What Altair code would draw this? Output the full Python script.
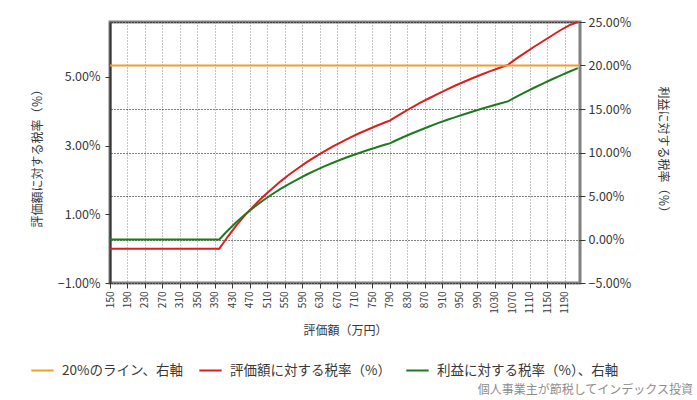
import altair as alt
import pandas as pd

# ---- data ----
x_vals = [150, 400, 410, 420, 440, 460, 480, 500, 520, 540, 560, 580, 600, 620, 640,
          660, 680, 700, 720, 740, 760, 780, 790, 800, 820, 840, 860, 880, 900, 920,
          940, 960, 980, 1000, 1020, 1040, 1060, 1080, 1100, 1120, 1140, 1160, 1180,
          1200, 1220]
red_vals = [0, 0, 0.18, 0.36, 0.69, 0.99, 1.26, 1.51, 1.74, 1.96, 2.16, 2.34, 2.52, 2.68,
            2.83, 2.98, 3.11, 3.24, 3.36, 3.47, 3.58, 3.68, 3.73, 3.81, 3.96, 4.11, 4.25,
            4.38, 4.51, 4.63, 4.75, 4.86, 4.97, 5.07, 5.17, 5.26, 5.35, 5.54, 5.71, 5.88,
            6.04, 6.20, 6.36, 6.50, 6.60]
green_vals = [0, 0, 0.55, 1.07, 2.04, 2.92, 3.73, 4.48, 5.17, 5.81, 6.40, 6.95, 7.47, 7.95,
              8.40, 8.82, 9.22, 9.60, 9.95, 10.29, 10.61, 10.91, 11.05, 11.29, 11.75, 12.18,
              12.59, 12.99, 13.37, 13.73, 14.07, 14.40, 14.72, 15.03, 15.32, 15.60, 15.87,
              16.41, 16.93, 17.44, 17.92, 18.39, 18.84, 19.28, 19.70]
line20_x = [150, 1225]
line20_vals = [20, 20]

x_ticks = [150, 190, 230, 270, 310, 350, 390, 430, 470, 510, 550, 590, 630, 670, 710,
           750, 790, 830, 870, 910, 950, 990, 1030, 1070, 1110, 1150, 1190]
left_ticks = [-1, 1, 3, 5]
right_ticks = [-5, 0, 5, 10, 15, 20, 25]

series_names = ["20%のライン、右軸", "評価額に対する税率（%）", "利益に対する税率（%）、右軸"]
series_colors = ["#EE9E2E", "#DC1E1E", "#1F7A1F"]
watermark = ["個人事業主が節税してインデックス投資"]

FONT = "Noto Sans CJK JP"
TXT = "#383838"

df_left = pd.DataFrame({"x": x_vals, "v": red_vals, "s": series_names[1]})
df_right = pd.concat([
    pd.DataFrame({"x": line20_x, "v": line20_vals, "s": series_names[0]}),
    pd.DataFrame({"x": x_vals, "v": green_vals, "s": series_names[2]}),
], ignore_index=True)

xenc = alt.X(
    "x:Q",
    scale=alt.Scale(domain=[150, 1225], nice=False, zero=False),
    axis=alt.Axis(
        values=x_ticks, format="d", labelAngle=270, labelFontSize=10, labelFont=FONT,
        labelColor=TXT, labelPadding=3, tickSize=5, tickColor=TXT, domain=False,
        grid=True, gridColor="#8A8A8A", gridDash=[1, 2], gridWidth=1,
        labelFlush=False, labelOverlap=False,
        title="評価額（万円）", titleFont=FONT, titleFontSize=12, titleFontWeight="normal",
        titleColor=TXT, titleX=235, titleY=47, titleAlign="center", titleBaseline="middle",
    ),
)

color = alt.Color(
    "s:N",
    scale=alt.Scale(domain=series_names, range=series_colors),
    legend=alt.Legend(
        title=None, orient="none", legendX=-80, legendY=336, direction="horizontal",
        symbolType="stroke", symbolStrokeWidth=2, symbolSize=500,
        labelFontSize=13.5, labelFont=FONT, labelColor=TXT, columnPadding=11,
        labelOffset=7, labelLimit=0,
    ),
)

left = alt.Chart(df_left).mark_line(strokeWidth=2).encode(
    x=xenc,
    y=alt.Y(
        "v:Q",
        scale=alt.Scale(domain=[-1, 6.6], nice=False, zero=False),
        axis=alt.Axis(
            orient="left", values=left_ticks,
            labelExpr="format(datum.value, '.2f') + '%'",
            labelFontSize=12.5, labelFont=FONT, labelColor=TXT, labelPadding=5,
            tickSize=5, tickColor=TXT, grid=False,
            domain=True, domainColor=TXT, domainWidth=2,
            title="評価額に対する税率（％）", titleFont=FONT, titleFontSize=12,
            titleFontWeight="normal", titleColor=TXT, titleAngle=270,
            titleX=-73, titleY=133, titleAlign="center", titleBaseline="middle",
        ),
    ),
    color=color,
)

right = alt.Chart(df_right).mark_line(strokeWidth=2).encode(
    x=xenc,
    y=alt.Y(
        "v:Q",
        scale=alt.Scale(domain=[-5, 25], nice=False, zero=False),
        axis=alt.Axis(
            orient="right", values=right_ticks,
            labelExpr="format(datum.value, '.2f') + '%'",
            labelFontSize=12.5, labelFont=FONT, labelColor=TXT, labelPadding=3,
            tickSize=5, tickColor=TXT, domain=False,
            grid=True, gridColor="#000000", gridDash=[1, 2], gridWidth=1,
            title="利益に対する税率（％）", titleFont=FONT, titleFontSize=12,
            titleFontWeight="normal", titleColor=TXT, titleAngle=90,
            titleX=82, titleY=130, titleAlign="center", titleBaseline="middle",
        ),
    ),
    color=color,
)

wm = alt.Chart(pd.DataFrame({"t": watermark})).mark_text(
    align="right", baseline="middle", font=FONT, fontSize=12, color="#8C8C8C"
).encode(x=alt.value(583), y=alt.value(368), text="t:N")

chart = (
    alt.layer(left, right, wm)
    .resolve_scale(y="independent")
    .properties(
        width=470, height=261,
        padding={"left": 110, "top": 22, "right": 117, "bottom": 117},
        autosize=alt.AutoSizeParams(type="none"),
        background="white",
    )
    .configure_view(stroke="#808080", strokeWidth=3)
)

chart.save("out.html", embed_options={"renderer": "svg", "actions": False})
